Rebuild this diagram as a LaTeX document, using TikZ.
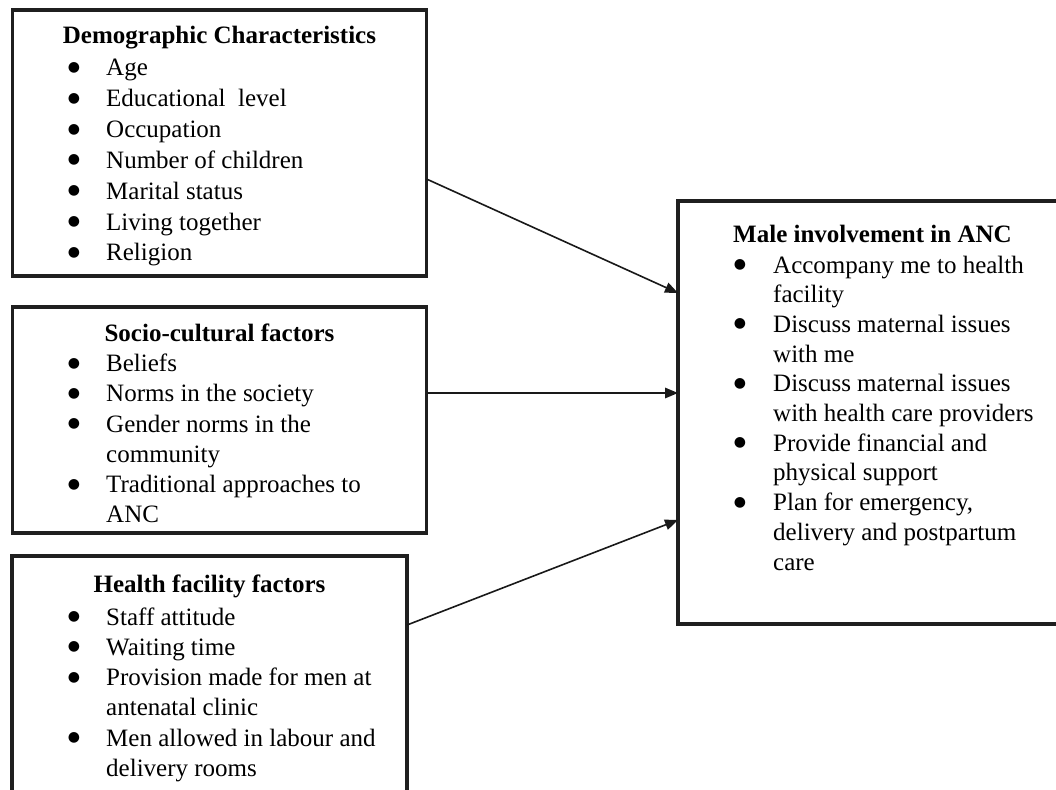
\documentclass[tikz,border=0pt]{standalone}
\usepackage{fontspec}
\setmainfont{Liberation Serif}
\newfontfamily\bulfont{DejaVu Sans}
\usetikzlibrary{arrows.meta}
\begin{document}
\begin{tikzpicture}[x=1pt,y=-1pt,
  box/.style={draw=black!88, line width=3.2pt, inner sep=0pt, outer sep=0pt},
  txt/.style={inner sep=0pt, anchor=base west, font=\fontsize{25}{30}\selectfont},
  ttl/.style={inner sep=0pt, anchor=base, font=\fontsize{25}{30}\selectfont\bfseries},
  ttlw/.style={inner sep=0pt, anchor=base west, font=\fontsize{25}{30}\selectfont\bfseries},
  bul/.style={inner sep=0pt, anchor=base, yshift=4.5pt, font=\bulfont\fontsize{14}{14}\selectfont},
  arr/.style={line width=1.6pt, draw=black!90, -{Triangle[length=13pt,width=10.5pt]}}]
\clip (0,0) rectangle (1056,789);
\fill[white] (0,0) rectangle (1056,789);

% boxes
\node[box, minimum width=414pt, minimum height=266pt] (demo) at (219.5,143) {};
\node[box, minimum width=414pt, minimum height=226pt] (socio) at (219.5,420) {};
\node[box, minimum width=395pt, minimum height=264pt] (health) at (209.5,688) {};
\node[box, minimum width=402pt, minimum height=423pt] (male) at (879,412.5) {};

% Demographic characteristics
\node[ttl] (dt) at (219.5,43.3) {Demographic Characteristics};
\node[bul] (db1) at (74,76) {●};   \node[txt] (d1) at (106,76) {Age};
\node[bul] (db2) at (74,106.8) {●}; \node[txt] (d2) at (106,106.8) {Educational~~level};
\node[bul] (db3) at (74,137.6) {●}; \node[txt] (d3) at (106,137.6) {Occupation};
\node[bul] (db4) at (74,168.4) {●}; \node[txt] (d4) at (106,168.4) {Number of children};
\node[bul] (db5) at (74,199.2) {●}; \node[txt] (d5) at (106,199.2) {Marital status};
\node[bul] (db6) at (74,230) {●};   \node[txt] (d6) at (106,230) {Living together};
\node[bul] (db7) at (74,260.8) {●}; \node[txt] (d7) at (106,260.8) {Religion};

% Socio-cultural factors
\node[ttl] (st) at (219.5,341) {Socio-cultural factors};
\node[bul] (sb1) at (74,371.7) {●}; \node[txt] (s1) at (106,371.7) {Beliefs};
\node[bul] (sb2) at (74,401.9) {●}; \node[txt] (s2) at (106,401.9) {Norms in the society};
\node[bul] (sb3) at (74,432.1) {●}; \node[txt] (s3) at (106,432.1) {Gender norms in the};
\node[txt] (s3b) at (106,462.3) {community};
\node[bul] (sb4) at (74,492.5) {●}; \node[txt] (s4) at (106,492.5) {Traditional approaches to};
\node[txt] (s4b) at (106,522.7) {ANC};

% Health facility factors
\node[ttl] (ht) at (209.5,592) {Health facility factors};
\node[bul] (hb1) at (74,625) {●}; \node[txt] (h1) at (106,625) {Staff attitude};
\node[bul] (hb2) at (74,655.3) {●}; \node[txt] (h2) at (106,655.3) {Waiting time};
\node[bul] (hb3) at (74,685.6) {●}; \node[txt] (h3) at (106,685.6) {Provision made for men at};
\node[txt] (h3b) at (106,715.9) {antenatal clinic};
\node[bul] (hb4) at (74,746.2) {●}; \node[txt] (h4) at (106,746.2) {Men allowed in labour and};
\node[txt] (h4b) at (106,776.5) {delivery rooms};

% Male involvement
\node[ttlw] (mt) at (733,242) {Male involvement in ANC};
\node[bul] (mb1) at (740,273) {●}; \node[txt] (m1) at (773,273) {Accompany me to health};
\node[txt] (m1b) at (773,302.7) {facility};
\node[bul] (mb2) at (740,332.4) {●}; \node[txt] (m2) at (773,332.4) {Discuss maternal issues};
\node[txt] (m2b) at (773,362.1) {with me};
\node[bul] (mb3) at (740,391.8) {●}; \node[txt] (m3) at (773,391.8) {Discuss maternal issues};
\node[txt] (m3b) at (773,421.5) {with health care providers};
\node[bul] (mb4) at (740,451.2) {●}; \node[txt] (m4) at (773,451.2) {Provide financial and};
\node[txt] (m4b) at (773,480.9) {physical support};
\node[bul] (mb5) at (740,510.6) {●}; \node[txt] (m5) at (773,510.6) {Plan for emergency,};
\node[txt] (m5b) at (773,540.3) {delivery and postpartum};
\node[txt] (m5c) at (773,570) {care};

% arrows
\draw[arr] ([yshift=-36pt]demo.east) -- ([yshift=119.5pt]male.west);
\draw[arr] ([yshift=27pt]socio.east) -- ([yshift=19.5pt]male.west);
\draw[arr] ([yshift=63pt]health.east) -- ([yshift=-107.5pt]male.west);
\end{tikzpicture}
\end{document}
